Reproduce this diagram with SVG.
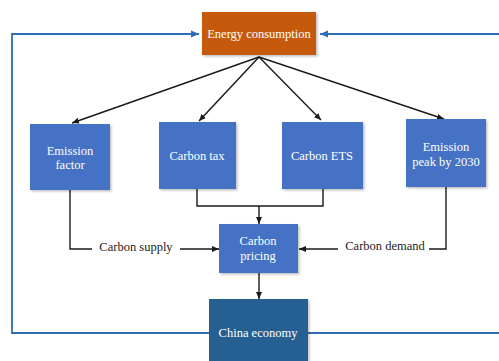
<svg xmlns="http://www.w3.org/2000/svg" width="499" height="361" viewBox="0 0 499 361">
<defs>
<style>
.box{fill:#4472C4;filter:url(#sh)}
.t{font-family:"Liberation Serif","Times New Roman",serif;font-size:12.5px;fill:#fff;text-anchor:middle}
.lbl{font-family:"Liberation Serif","Times New Roman",serif;font-size:12.5px;fill:#222;text-anchor:middle}
.k{fill:none;stroke:#1a1a1a;stroke-width:1.4}
.b{fill:none;stroke:#2E6DB4;stroke-width:1.8}
</style>
<filter id="sh" x="-10%" y="-10%" width="130%" height="130%">
<feDropShadow dx="1.5" dy="1.5" stdDeviation="1" flood-color="#000" flood-opacity="0.25"/>
</filter>
<marker id="ak" markerWidth="8" markerHeight="8" refX="7" refY="4" orient="auto" markerUnits="userSpaceOnUse">
<path d="M0,1 L7,4 L0,7 Z" fill="#1a1a1a"/>
</marker>
<marker id="ab" markerWidth="9" markerHeight="9" refX="8" refY="4.5" orient="auto" markerUnits="userSpaceOnUse">
<path d="M0,1 L8,4.5 L0,8 Z" fill="#2E6DB4"/>
</marker>
</defs>
<g id="connectors">
<path class="b" d="M209,333 H12 V34 H199" marker-end="url(#ab)"/>
<path class="b" d="M308,333 H499"/>
<path class="b" d="M499,34 H320" marker-end="url(#ab)"/>
<line class="k" x1="259" y1="57" x2="72" y2="123" marker-end="url(#ak)"/>
<line class="k" x1="259" y1="57" x2="199" y2="121" marker-end="url(#ak)"/>
<line class="k" x1="259" y1="57" x2="321" y2="120" marker-end="url(#ak)"/>
<line class="k" x1="259" y1="57" x2="444" y2="119" marker-end="url(#ak)"/>
<path class="k" d="M197,189 V206 H323 V189"/>
<line class="k" x1="259" y1="206" x2="259" y2="224" marker-end="url(#ak)"/>
<path class="k" d="M70,190 V249 H92"/>
<line class="k" x1="180" y1="249" x2="219" y2="249" marker-end="url(#ak)"/>
<path class="k" d="M446,187 V249 H429"/>
<line class="k" x1="338" y1="249" x2="299" y2="249" marker-end="url(#ak)"/>
<line class="k" x1="259" y1="273" x2="259" y2="299" marker-end="url(#ak)"/>
<text class="lbl" x="136" y="251">Carbon supply</text>
<text class="lbl" x="385" y="250">Carbon demand</text>
</g>
<g id="energy">
<rect x="202" y="12" width="114" height="43" fill="#C55A11" filter="url(#sh)"/>
<text class="t" x="259" y="38">Energy consumption</text>
</g>
<g id="emission-factor">
<rect class="box" x="30" y="124" width="80" height="66"/>
<text class="t" x="70" y="155">Emission</text>
<text class="t" x="70" y="169">factor</text>
</g>
<g id="carbon-tax">
<rect class="box" x="159" y="122" width="77" height="67"/>
<text class="t" x="197" y="160">Carbon tax</text>
</g>
<g id="carbon-ets">
<rect class="box" x="282" y="122" width="81" height="67"/>
<text class="t" x="322" y="160">Carbon ETS</text>
</g>
<g id="emission-peak">
<rect class="box" x="406" y="119" width="80" height="68"/>
<text class="t" x="446" y="151">Emission</text>
<text class="t" x="446" y="166">peak by 2030</text>
</g>
<g id="carbon-pricing">
<rect class="box" x="219" y="224" width="79" height="49"/>
<text class="t" x="258" y="245">Carbon</text>
<text class="t" x="258" y="260">pricing</text>
</g>
<g id="china-economy">
<rect x="209" y="299" width="99" height="70" fill="#255E91" filter="url(#sh)"/>
<text class="t" x="258" y="337">China economy</text>
</g>
</svg>
